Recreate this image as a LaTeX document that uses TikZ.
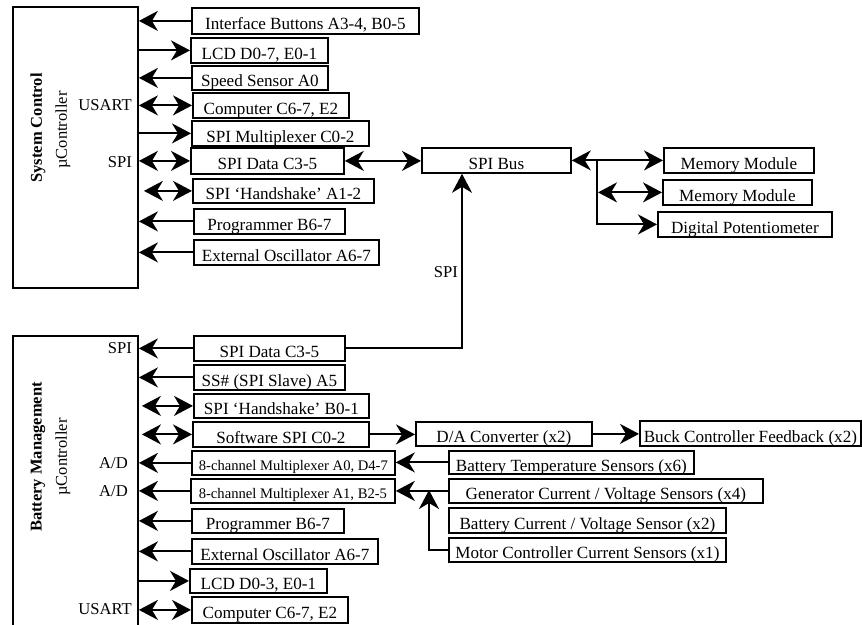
\documentclass[tikz,border=0pt]{standalone}
\usepackage{fontspec}
\setmainfont{Liberation Serif}
\usetikzlibrary{arrows.meta}
\newcommand\mybox[7][]{\node[bx,#1,anchor=north west,minimum width={(#5-#3)*1pt},minimum height={(#6-#4)*1pt}] (#2) at (#3,#4) {#7};}
\begin{document}
\begin{tikzpicture}[x=1pt,y=-1pt,
  bigtip/.tip={Stealth[length=19pt,width=20pt,inset=6pt]},
  ln/.style={line width=1.9pt},
  bx/.style={draw,line width=1.8pt,inner sep=0pt,text height=17.5pt,text depth=0pt,font=\fontsize{17.1}{19}\selectfont},
  sm/.style={text height=14.8pt,font=\fontsize{14.6}{16}\selectfont},
  lbl/.style={inner sep=0pt,anchor=base east,font=\fontsize{16.6}{18}\selectfont},
  rot/.style={rotate=90,inner sep=0pt,font=\fontsize{16.5}{18}\selectfont},
  arr/.style={ln,-bigtip},
  darr/.style={ln,bigtip-bigtip}]
\useasboundingbox (0,0) rectangle (862,624);

% microcontrollers
\node[draw,ln,anchor=north west,minimum width=125pt,minimum height=281pt,inner sep=0pt] (mcuA) at (12,6) {};
\node[draw,ln,anchor=north west,minimum width=125pt,minimum height=305pt,inner sep=0pt] (mcuB) at (12,335) {};
\node[rot,font=\fontsize{16.5}{18}\selectfont\bfseries] (tA) at (38,128) {System Control};
\node[rot] (uA) at (63,130) {µController};
\node[rot,font=\fontsize{16.5}{18}\selectfont\bfseries] (tB) at (38,457) {Battery Management};
\node[rot] (uB) at (63,457) {µController};

% top boxes
\mybox{ib}{191}{7}{418}{33}{Interface Buttons A3-4, B0-5}
\mybox{lcdA}{190}{37}{327}{62}{LCD D0-7, E0-1}
\mybox{speed}{191}{65}{327}{89}{Speed Sensor A0}
\mybox{compA}{192}{92}{348}{117}{Computer C6-7, E2}
\mybox{spimux}{191}{120}{368}{145}{SPI Multiplexer C0-2}
\mybox{spidA}{190}{147}{343}{173}{SPI Data C3-5}
\mybox{hsA}{192}{178}{373}{202}{SPI ‘Handshake’ A1-2}
\mybox{progA}{193}{208}{344}{233}{Programmer B6-7}
\mybox{oscA}{193}{239}{378}{264}{External Oscillator A6-7}

\mybox{spibus}{421}{147}{570}{172}{SPI Bus}
\mybox{mem1}{663}{147}{813}{172}{Memory Module}
\mybox{mem2}{662}{179}{811}{204}{Memory Module}
\mybox{pot}{657}{211}{831}{236}{Digital Potentiometer}

% bottom boxes
\mybox{spidB}{193}{335}{344}{360}{SPI Data C3-5}
\mybox{ss}{193}{364}{344}{389}{SS\# (SPI Slave) A5}
\mybox{hsB}{193}{393}{368}{417}{SPI ‘Handshake’ B0-1}
\mybox{sw}{192}{421}{368}{446}{Software SPI C0-2}
\mybox{da}{415}{421}{591}{445}{D/A Converter (x2)}
\mybox{buck}{639}{420}{860}{445}{Buck Controller Feedback (x2)}
\mybox[sm]{mux0}{191}{450}{394}{474}{8-channel Multiplexer A0, D4-7}
\mybox{temp}{448}{450}{693}{473}{Battery Temperature Sensors (x6)}
\mybox[sm]{mux1}{190}{478}{394}{502}{8-channel Multiplexer A1, B2-5}
\mybox{gen}{448}{478}{762}{502}{Generator Current / Voltage Sensors (x4)}
\mybox{bat}{448}{507}{725}{532}{Battery Current / Voltage Sensor (x2)}
\mybox{motor}{448}{537}{725}{561}{Motor Controller Current Sensors (x1)}
\mybox{progB}{191}{508}{343}{532}{Programmer B6-7}
\mybox{oscB}{191}{538}{377}{563}{External Oscillator A6-7}
\mybox{lcdB}{189}{568}{326}{592}{LCD D0-3, E0-1}
\mybox{compB}{191}{596}{347}{622}{Computer C6-7, E2}

% labels
\node[lbl] (l1) at (132,110) {USART};
\node[lbl] (l2) at (132,167) {SPI};
\node[lbl] (l3) at (458,277) {SPI};
\node[lbl] (l4) at (132,353) {SPI};
\node[lbl] (l5) at (128,468) {A/D};
\node[lbl] (l6) at (128,496) {A/D};
\node[lbl] (l7) at (132,614) {USART};

% top connectors
\draw[arr] (ib.west) -- (ib.west -| mcuA.east);
\draw[arr] (lcdA.west -| mcuA.east) -- (lcdA.west);
\draw[arr] (speed.west) -- (speed.west -| mcuA.east);
\draw[darr] (compA.west -| mcuA.east) -- (compA.west);
\draw[arr] (spimux.west -| mcuA.east) -- (spimux.west);
\draw[darr] (spidA.west -| mcuA.east) -- (spidA.west);
\draw[darr] ([xshift=5pt]mcuA.east |- hsA.west) -- (hsA.west);
\draw[arr] (progA.west) -- (progA.west -| mcuA.east);
\draw[arr] (oscA.west) -- (oscA.west -| mcuA.east);

\draw[darr] (spidA.east) -- (spidA.east -| spibus.west);
\draw[darr] (spibus.east) -- (spibus.east -| mem1.west);
\coordinate (br) at (597,159.5);
\draw[arr] (br) |- (pot.west);
\draw[darr] ([xshift=1pt]br |- mem2.west) -- (mem2.west);

\coordinate (spiv) at (462,300);
\draw[arr] (spidB.east) -| (spiv |- spibus.south);

% bottom connectors
\draw[arr] (spidB.west) -- (spidB.west -| mcuB.east);
\draw[arr] (ss.west) -- (ss.west -| mcuB.east);
\draw[darr] ([xshift=3pt]mcuB.east |- hsB.west) -- (hsB.west);
\draw[darr] ([xshift=3pt]mcuB.east |- sw.west) -- (sw.west);
\draw[arr] (sw.east) -- (sw.east -| da.west);
\draw[arr] (da.east) -- (da.east -| buck.west);
\draw[arr] (mux0.west) -- (mux0.west -| mcuB.east);
\draw[arr] (temp.west) -- (temp.west -| mux0.east);
\draw[arr] (mux1.west) -- (mux1.west -| mcuB.east);
\draw[arr] (gen.west) -- (gen.west -| mux1.east);
\coordinate (jn) at (429,490);
\draw[arr] (motor.west) -| (jn);
\draw[arr] (progB.west) -- (progB.west -| mcuB.east);
\draw[arr] (oscB.west) -- (oscB.west -| mcuB.east);
\draw[arr] (lcdB.west -| mcuB.east) -- (lcdB.west);
\draw[darr] (compB.west -| mcuB.east) -- (compB.west);
\end{tikzpicture}
\end{document}
